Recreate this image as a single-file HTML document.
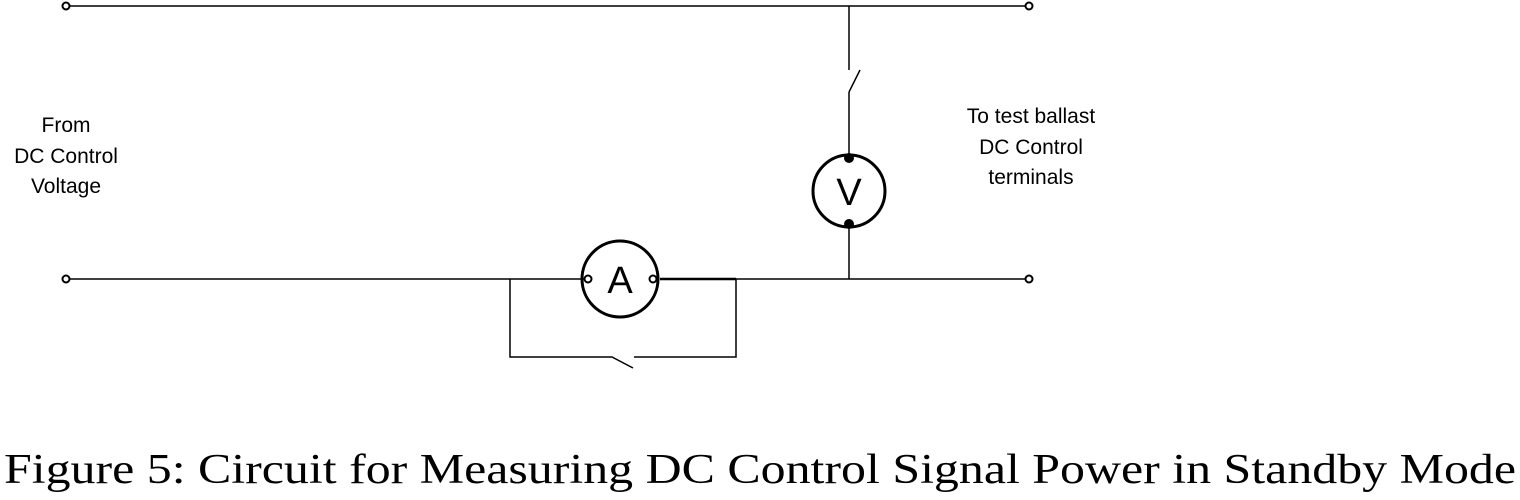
<!DOCTYPE html>
<html><head><style>html,body{margin:0;padding:0;background:#fff;}svg{display:block}
.s{font-family:"Liberation Sans",Arial,sans-serif;}
.cap{font-family:"Liberation Serif","Times New Roman",serif;}</style></head>
<body>
<svg width="1520" height="500" viewBox="0 0 1520 500" xmlns="http://www.w3.org/2000/svg">
<g stroke="#000" fill="none" stroke-width="1.5">
<line x1="70" y1="6" x2="1025" y2="6"/>
<line x1="849" y1="6" x2="849" y2="70"/>
<line x1="849" y1="92" x2="860" y2="70"/>
<line x1="849" y1="92" x2="849" y2="155"/>
<line x1="849" y1="226" x2="849" y2="279"/>
<line x1="70" y1="279" x2="582" y2="279"/>
<line x1="660" y1="279" x2="736" y2="279" stroke-width="2.5"/>
<line x1="736" y1="279" x2="1025" y2="279"/>
<polyline points="510,279 510,357 612,357 633,368"/>
<polyline points="634,357 736,357 736,279"/>
<circle cx="66" cy="6" r="3.5" stroke-width="2"/>
<circle cx="1029" cy="6" r="3.5" stroke-width="2"/>
<circle cx="66" cy="279" r="3.5" stroke-width="2"/>
<circle cx="1029" cy="279" r="3.5" stroke-width="2"/>
<circle cx="849" cy="191" r="36" stroke-width="3"/>
<circle cx="620" cy="279" r="38" stroke-width="3"/>
<circle cx="588" cy="279" r="3.5" stroke-width="2"/>
<circle cx="653" cy="279" r="3.5" stroke-width="2"/>
</g>
<circle cx="849" cy="158" r="5" fill="#000"/>
<circle cx="849" cy="224" r="5" fill="#000"/>
<g class="s" font-size="21" text-anchor="middle" fill="#000">
<text x="66" y="132">From</text>
<text x="66" y="163">DC Control</text>
<text x="66" y="193">Voltage</text>
<text x="1031" y="123">To test ballast</text>
<text x="1031" y="154">DC Control</text>
<text x="1031" y="184">terminals</text>
<text x="849" y="205" font-size="38">V</text>
<text x="620" y="293" font-size="38">A</text>
</g>
<text class="cap" x="4" y="483" font-size="42" textLength="1512" lengthAdjust="spacingAndGlyphs">Figure 5: Circuit for Measuring DC Control Signal Power in Standby Mode</text>
</svg>
</body></html>
